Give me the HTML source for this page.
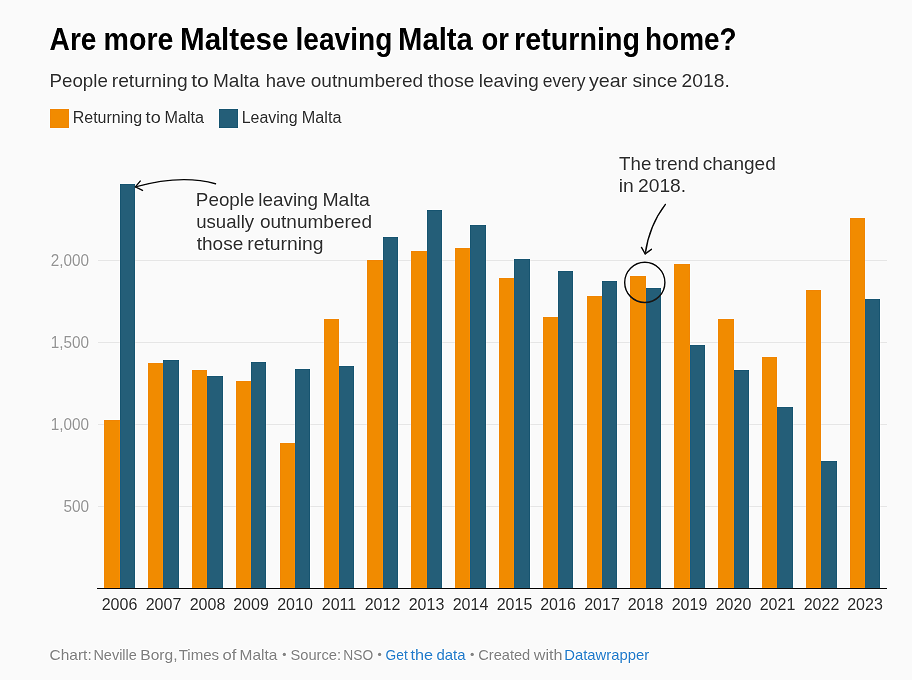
<!DOCTYPE html>
<html><head><meta charset="utf-8"><style>
html,body{margin:0;padding:0;background:#fafafa;width:912px;height:680px;overflow:hidden}
svg{display:block;will-change:transform}
text{font-family:'Liberation Sans', sans-serif}
.yl{font-size:16px;fill:#9c9c9c}
.xl{font-size:16px;fill:#3a3a3a}
.t{font-size:30.5px;font-weight:bold;fill:#000}
.st{font-size:19px;fill:#3a3a3a}
.lg{font-size:16px;fill:#3a3a3a}
.an{font-size:19px;fill:#3a3a3a}
.ft{font-size:14.5px;fill:#888}
.lk{font-size:14.5px;fill:#3285cf}
</style></head><body>
<svg width="912" height="680" viewBox="0 0 912 680">
<defs><filter id="sh" x="0" y="0" width="912" height="680" filterUnits="userSpaceOnUse" color-interpolation-filters="sRGB"><feConvolveMatrix order="3" kernelMatrix="0 -0.07 0 -0.07 1.28 -0.07 0 -0.07 0" preserveAlpha="true"/></filter></defs>
<g filter="url(#sh)">
<rect width="912" height="680" fill="#fafafa"/>
<rect x="50" y="109" width="19" height="19" fill="#f18b00"/>
<rect x="219" y="109" width="19" height="19" fill="#245e78"/>
<rect x="98" y="260.00" width="789" height="1" fill="#e8e8e8"/>
<text x="50.70" y="266.10" class="yl" textLength="38.3" lengthAdjust="spacingAndGlyphs">2,000</text>
<rect x="98" y="342.00" width="789" height="1" fill="#e8e8e8"/>
<text x="50.70" y="348.10" class="yl" textLength="38.3" lengthAdjust="spacingAndGlyphs">1,500</text>
<rect x="98" y="424.00" width="789" height="1" fill="#e8e8e8"/>
<text x="50.70" y="430.10" class="yl" textLength="38.3" lengthAdjust="spacingAndGlyphs">1,000</text>
<rect x="98" y="506.00" width="789" height="1" fill="#e8e8e8"/>
<text x="63.40" y="512.10" class="yl" textLength="25.6" lengthAdjust="spacingAndGlyphs">500</text>
<rect x="104" y="420" width="16" height="168.0" fill="#f18b00"/>
<rect x="120" y="184" width="15" height="404.0" fill="#245e78"/>
<text x="119.50" y="609.9" text-anchor="middle" class="xl">2006</text>
<rect x="148" y="363" width="15" height="225.0" fill="#f18b00"/>
<rect x="163" y="360" width="16" height="228.0" fill="#245e78"/>
<text x="163.50" y="609.9" text-anchor="middle" class="xl">2007</text>
<rect x="192" y="370" width="15" height="218.0" fill="#f18b00"/>
<rect x="207" y="376" width="16" height="212.0" fill="#245e78"/>
<text x="207.50" y="609.9" text-anchor="middle" class="xl">2008</text>
<rect x="236" y="381" width="15" height="207.0" fill="#f18b00"/>
<rect x="251" y="362" width="15" height="226.0" fill="#245e78"/>
<text x="251.00" y="609.9" text-anchor="middle" class="xl">2009</text>
<rect x="280" y="443" width="15" height="145.0" fill="#f18b00"/>
<rect x="295" y="369" width="15" height="219.0" fill="#245e78"/>
<text x="295.00" y="609.9" text-anchor="middle" class="xl">2010</text>
<rect x="324" y="319" width="15" height="269.0" fill="#f18b00"/>
<rect x="339" y="366" width="15" height="222.0" fill="#245e78"/>
<text x="339.00" y="609.9" text-anchor="middle" class="xl">2011</text>
<rect x="367" y="260" width="16" height="328.0" fill="#f18b00"/>
<rect x="383" y="237" width="15" height="351.0" fill="#245e78"/>
<text x="382.50" y="609.9" text-anchor="middle" class="xl">2012</text>
<rect x="411" y="251" width="16" height="337.0" fill="#f18b00"/>
<rect x="427" y="210" width="15" height="378.0" fill="#245e78"/>
<text x="426.50" y="609.9" text-anchor="middle" class="xl">2013</text>
<rect x="455" y="248" width="15" height="340.0" fill="#f18b00"/>
<rect x="470" y="225" width="16" height="363.0" fill="#245e78"/>
<text x="470.50" y="609.9" text-anchor="middle" class="xl">2014</text>
<rect x="499" y="278" width="15" height="310.0" fill="#f18b00"/>
<rect x="514" y="259" width="16" height="329.0" fill="#245e78"/>
<text x="514.50" y="609.9" text-anchor="middle" class="xl">2015</text>
<rect x="543" y="317" width="15" height="271.0" fill="#f18b00"/>
<rect x="558" y="271" width="15" height="317.0" fill="#245e78"/>
<text x="558.00" y="609.9" text-anchor="middle" class="xl">2016</text>
<rect x="587" y="296" width="15" height="292.0" fill="#f18b00"/>
<rect x="602" y="281" width="15" height="307.0" fill="#245e78"/>
<text x="602.00" y="609.9" text-anchor="middle" class="xl">2017</text>
<rect x="630" y="276" width="16" height="312.0" fill="#f18b00"/>
<rect x="646" y="288" width="15" height="300.0" fill="#245e78"/>
<text x="645.50" y="609.9" text-anchor="middle" class="xl">2018</text>
<rect x="674" y="264" width="16" height="324.0" fill="#f18b00"/>
<rect x="690" y="345" width="15" height="243.0" fill="#245e78"/>
<text x="689.50" y="609.9" text-anchor="middle" class="xl">2019</text>
<rect x="718" y="319" width="16" height="269.0" fill="#f18b00"/>
<rect x="734" y="370" width="15" height="218.0" fill="#245e78"/>
<text x="733.50" y="609.9" text-anchor="middle" class="xl">2020</text>
<rect x="762" y="357" width="15" height="231.0" fill="#f18b00"/>
<rect x="777" y="407" width="16" height="181.0" fill="#245e78"/>
<text x="777.50" y="609.9" text-anchor="middle" class="xl">2021</text>
<rect x="806" y="290" width="15" height="298.0" fill="#f18b00"/>
<rect x="821" y="461" width="16" height="127.0" fill="#245e78"/>
<text x="821.50" y="609.9" text-anchor="middle" class="xl">2022</text>
<rect x="850" y="218" width="15" height="370.0" fill="#f18b00"/>
<rect x="865" y="299" width="15" height="289.0" fill="#245e78"/>
<text x="865.00" y="609.9" text-anchor="middle" class="xl">2023</text>
<rect x="97" y="588" width="790" height="1" fill="#1a1a1a"/>
<text class="t" x="49.6" y="50" textLength="46.86" lengthAdjust="spacingAndGlyphs">Are</text>
<text class="t" x="103.62" y="50" textLength="69.86" lengthAdjust="spacingAndGlyphs">more</text>
<text class="t" x="180.02" y="50" textLength="108.49" lengthAdjust="spacingAndGlyphs">Maltese</text>
<text class="t" x="295.54" y="50" textLength="96.84" lengthAdjust="spacingAndGlyphs">leaving</text>
<text class="t" x="398.04" y="50" textLength="74.77" lengthAdjust="spacingAndGlyphs">Malta</text>
<text class="t" x="481.43" y="50" textLength="27.49" lengthAdjust="spacingAndGlyphs">or</text>
<text class="t" x="514.11" y="50" textLength="125.81" lengthAdjust="spacingAndGlyphs">returning</text>
<text class="t" x="645.05" y="50" textLength="91.56" lengthAdjust="spacingAndGlyphs">home?</text>
<text class="st" x="49.46" y="86.7" textLength="58.37" lengthAdjust="spacingAndGlyphs">People</text>
<text class="st" x="111.72" y="86.7" textLength="76.02" lengthAdjust="spacingAndGlyphs">returning</text>
<text class="st" x="191.18" y="86.7" textLength="17.71" lengthAdjust="spacingAndGlyphs">to</text>
<text class="st" x="212.94" y="86.7" textLength="46.56" lengthAdjust="spacingAndGlyphs">Malta</text>
<text class="st" x="265.72" y="86.7" textLength="40.1" lengthAdjust="spacingAndGlyphs">have</text>
<text class="st" x="310.7" y="86.7" textLength="112.53" lengthAdjust="spacingAndGlyphs">outnumbered</text>
<text class="st" x="427.71" y="86.7" textLength="46.64" lengthAdjust="spacingAndGlyphs">those</text>
<text class="st" x="478.72" y="86.7" textLength="60.0" lengthAdjust="spacingAndGlyphs">leaving</text>
<text class="st" x="542.76" y="86.7" textLength="42.78" lengthAdjust="spacingAndGlyphs">every</text>
<text class="st" x="588.95" y="86.7" textLength="38.38" lengthAdjust="spacingAndGlyphs">year</text>
<text class="st" x="632.46" y="86.7" textLength="44.89" lengthAdjust="spacingAndGlyphs">since</text>
<text class="st" x="681.53" y="86.7" textLength="48.23" lengthAdjust="spacingAndGlyphs">2018.</text>
<text class="lg" x="72.69" y="122.7" textLength="69.34" lengthAdjust="spacingAndGlyphs">Returning</text>
<text class="lg" x="145.63" y="122.7" textLength="15.03" lengthAdjust="spacingAndGlyphs">to</text>
<text class="lg" x="164.52" y="122.7" textLength="39.58" lengthAdjust="spacingAndGlyphs">Malta</text>
<text class="lg" x="241.69" y="122.7" textLength="55.83" lengthAdjust="spacingAndGlyphs">Leaving</text>
<text class="lg" x="301.87" y="122.7" textLength="39.63" lengthAdjust="spacingAndGlyphs">Malta</text>
<text class="an" x="195.85" y="205.8" textLength="58.68" lengthAdjust="spacingAndGlyphs">People</text>
<text class="an" x="258.23" y="205.8" textLength="59.89" lengthAdjust="spacingAndGlyphs">leaving</text>
<text class="an" x="322.41" y="205.8" textLength="47.49" lengthAdjust="spacingAndGlyphs">Malta</text>
<text class="an" x="196.19" y="227.6" textLength="57.94" lengthAdjust="spacingAndGlyphs">usually</text>
<text class="an" x="259.95" y="227.6" textLength="112.07" lengthAdjust="spacingAndGlyphs">outnumbered</text>
<text class="an" x="196.71" y="250.4" textLength="46.53" lengthAdjust="spacingAndGlyphs">those</text>
<text class="an" x="247.22" y="250.4" textLength="76.33" lengthAdjust="spacingAndGlyphs">returning</text>
<text class="an" x="619.08" y="169.8" textLength="32.25" lengthAdjust="spacingAndGlyphs">The</text>
<text class="an" x="655.21" y="169.8" textLength="43.62" lengthAdjust="spacingAndGlyphs">trend</text>
<text class="an" x="702.69" y="169.8" textLength="73.14" lengthAdjust="spacingAndGlyphs">changed</text>
<text class="an" x="618.71" y="191.6" textLength="15.05" lengthAdjust="spacingAndGlyphs">in</text>
<text class="an" x="638.03" y="191.6" textLength="48.12" lengthAdjust="spacingAndGlyphs">2018.</text>
<text class="ft" x="49.62" y="659.7" textLength="42.1" lengthAdjust="spacingAndGlyphs">Chart:</text>
<text class="ft" x="93.41" y="659.7" textLength="43.43" lengthAdjust="spacingAndGlyphs">Neville</text>
<text class="ft" x="140.32" y="659.7" textLength="37.17" lengthAdjust="spacingAndGlyphs">Borg,</text>
<text class="ft" x="178.66" y="659.7" textLength="40.48" lengthAdjust="spacingAndGlyphs">Times</text>
<text class="ft" x="222.6" y="659.7" textLength="13.87" lengthAdjust="spacingAndGlyphs">of</text>
<text class="ft" x="239.63" y="659.7" textLength="37.77" lengthAdjust="spacingAndGlyphs">Malta</text>
<text class="ft" x="290.43" y="659.7" textLength="50.61" lengthAdjust="spacingAndGlyphs">Source:</text>
<text class="ft" x="343.27" y="659.7" textLength="29.89" lengthAdjust="spacingAndGlyphs">NSO</text>
<text class="ft" x="478.26" y="659.7" textLength="51.98" lengthAdjust="spacingAndGlyphs">Created</text>
<text class="ft" x="533.72" y="659.7" textLength="28.72" lengthAdjust="spacingAndGlyphs">with</text>
<text class="lk" x="385.61" y="659.7" textLength="22.09" lengthAdjust="spacingAndGlyphs">Get</text>
<text class="lk" x="410.45" y="659.7" textLength="22.57" lengthAdjust="spacingAndGlyphs">the</text>
<text class="lk" x="436.47" y="659.7" textLength="29.03" lengthAdjust="spacingAndGlyphs">data</text>
<text class="lk" x="564.28" y="659.7" textLength="84.96" lengthAdjust="spacingAndGlyphs">Datawrapper</text>
<g fill="none" stroke="#1a1a1a" stroke-width="1.45" stroke-linecap="round" stroke-linejoin="round">
<path d="M215.5,183.8 Q181.4,174.1 135.4,186.9"/>
<path d="M140.2,181.1 L135.4,186.9 L142.5,190.4"/>
<path d="M665.4,204.4 Q649.2,225.5 645.2,253.8"/>
<path d="M641.5,247.4 L645.2,253.8 L651.4,249.3"/>
<circle cx="644.8" cy="282.4" r="20.1"/>
</g>
<g fill="#888">
<circle cx="284.35" cy="654.45" r="1.65"/>
<circle cx="379.6" cy="654.45" r="1.65"/>
<circle cx="472.2" cy="654.45" r="1.65"/>
</g>
</g>
</svg>
</body></html>
